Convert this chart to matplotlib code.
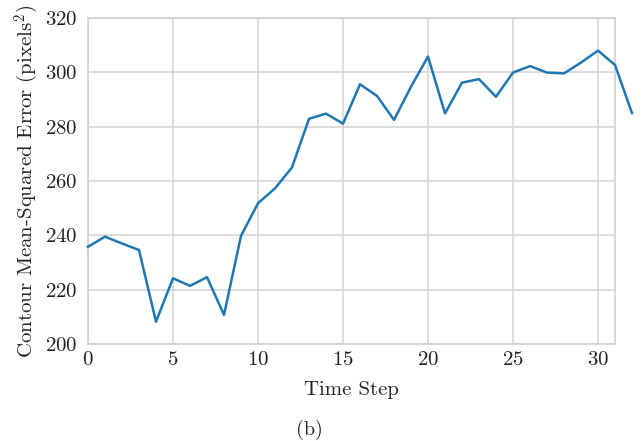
import matplotlib
matplotlib.use("Agg")
import matplotlib.pyplot as plt

time_steps = list(range(33))
mse = [235.8, 239.5, 237.0, 234.6, 208.2, 224.2, 221.4, 224.6, 210.7, 239.8,
       251.8, 257.3, 265.0, 282.9, 284.8, 281.1, 295.6, 291.3, 282.5, 294.7,
       305.8, 284.9, 296.2, 297.5, 291.0, 299.9, 302.3, 299.9, 299.6, 303.6,
       308.0, 302.7, 285.0]
x_ticks = [0, 5, 10, 15, 20, 25, 30]
y_ticks = [200, 220, 240, 260, 280, 300, 320]

plt.rcParams['font.family'] = 'serif'
plt.rcParams['font.serif'] = ['cmr10', 'DejaVu Serif']
plt.rcParams['mathtext.fontset'] = 'cm'
plt.rcParams['axes.formatter.use_mathtext'] = True

fig = plt.figure(figsize=(6.42, 4.41), dpi=100)
ax = fig.add_axes([88/642, 1-344/441, (615-88)/642, (344-18)/441])

grid_c = '#d3d3d3'
txt_c = '#222222'
ax.plot(time_steps, mse, color='#1f77b4', lw=1.8, clip_on=False, zorder=3)
ax.set_xlim(0, 31)
ax.set_ylim(200, 320)
ax.set_xticks(x_ticks)
ax.set_yticks(y_ticks)
ax.grid(True, color=grid_c, lw=1.1)
ax.set_axisbelow(True)
for s in ax.spines.values():
    s.set_color(grid_c)
    s.set_linewidth(1.3)
ax.tick_params(axis='x', length=0, labelsize=15, pad=5, colors=txt_c)
ax.tick_params(axis='y', length=0, labelsize=15, pad=7.5, colors=txt_c)
ax.set_xlabel('Time Step', fontsize=15, color=txt_c, labelpad=9)
ax.set_ylabel('Contour Mean-Squared Error (pixels$^2$)', fontsize=15, color=txt_c, labelpad=3)
fig.text(309/642, 1-430/441, '(b)', ha='center', va='center', fontsize=14.5, color=txt_c)

fig.savefig('out.png', dpi=100)
